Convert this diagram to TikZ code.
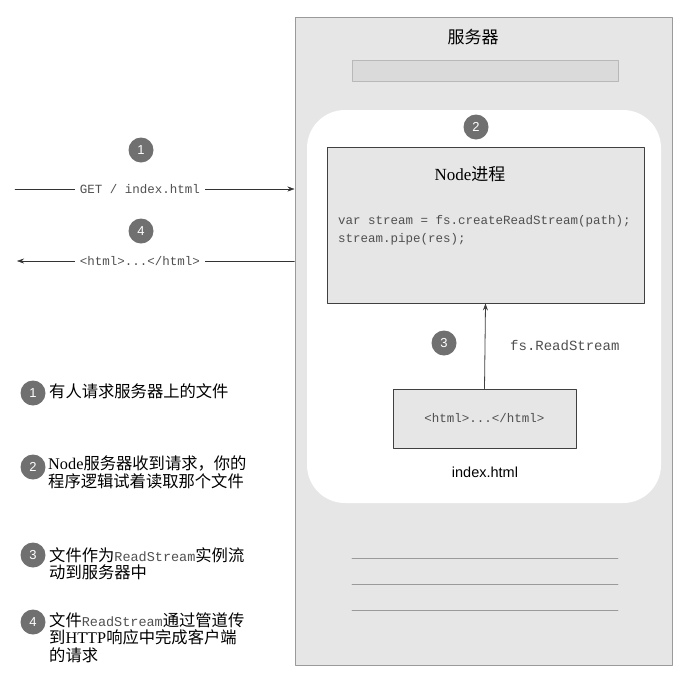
\documentclass[tikz,border=0pt]{standalone}
\usepackage{fontspec}
\setmainfont{Liberation Serif}
\setsansfont{Liberation Sans}
\setmonofont{Liberation Mono}
\newfontfamily\cjk{Noto Sans CJK SC}
\usetikzlibrary{arrows.meta}
\newcommand\zh[1]{{\cjk #1}}
\newcommand\rs[1]{{\ttfamily\fontsize{13.5}{17.5}\selectfont\color{codegray}#1}}
\definecolor{srvgray}{HTML}{E6E6E6}
\definecolor{bargray}{HTML}{DADADA}
\definecolor{numgray}{HTML}{707070}
\definecolor{edgegray}{HTML}{9A9A9A}
\definecolor{codegray}{HTML}{505050}
\begin{document}
\begin{tikzpicture}[x=1pt, y=-1pt, line join=round, line cap=round, >={Stealth[length=7pt, width=5pt]},
    num/.style={circle, fill=numgray, text=white, minimum size=25pt, inner sep=0pt, font=\sffamily\fontsize{13}{13}\selectfont},
    code/.style={text=codegray, font=\ttfamily\fontsize{12.5}{18}\selectfont},
    note/.style={anchor=north west, inner sep=0pt, align=left, font=\fontsize{16.3}{17.5}\selectfont}]
    \useasboundingbox (0,0) rectangle (684,675);
    % Máy chủ
    \node[draw=edgegray, fill=srvgray, line width=1pt, minimum width=377pt, minimum height=648pt, inner sep=0pt] (server) at (483.5,341) {};
    \node[font=\cjk\fontsize{17}{17}\selectfont] (title) at (473,37) {服务器};
    \node[draw=edgegray!70, fill=bargray, minimum width=266pt, minimum height=21pt, inner sep=0pt] (bar) at (485,70.5) {};
    \fill[white, rounded corners=38pt] (307,110) rectangle (661,503);
    \node[num] (s2) at (476,127) {2};
    % Tiến trình Node
    \node[draw=black!75, fill=srvgray, line width=0.8pt, minimum width=317pt, minimum height=156pt, inner sep=0pt] (proc) at (485.5,225) {};
    \node[font=\fontsize{17}{17}\selectfont] (ptitle) at (470,174) {Node\zh{进程}};
    \node[code, anchor=north west, inner sep=0pt, align=left] (src) at (338,215.5) {var stream = fs.createReadStream(path);\\stream.pipe(res);};
    \node[draw=black!75, fill=srvgray, line width=0.8pt, minimum width=183pt, minimum height=59pt, inner sep=0pt, code] (page) at (484.5,418.5) {<html>...</html>};
    \node[font=\sffamily\fontsize{14.5}{14.5}\selectfont] (idx) at (485,472) {index.html};
    \draw[->, black!75, line width=0.8pt] (page.north) -- (proc.south);
    \node[num] (s3) at (444,343) {3};
    \node[code, font=\ttfamily\fontsize{14}{14}\selectfont, anchor=west, inner sep=0pt] (rs) at (510,346) {fs.ReadStream};
    \foreach \y in {558,584,610} \draw[edgegray, line width=0.8pt] (352,\y) -- (618,\y);
    % Yêu cầu và phản hồi
    \node[num] (a1) at (141,150) {1};
    \node[code, inner sep=5pt] (get) at (140,189) {GET / index.html};
    \coordinate (getL) at (15,189);
    \draw[black!80] (getL) -- (get.west);
    \draw[->, black!80] (get.east) -- (get -| server.west);
    \node[num] (a4) at (141,231) {4};
    \node[code, inner sep=5pt] (resp) at (140,261) {<html>...</html>};
    \coordinate (respL) at (17,261);
    \draw[black!80] (resp -| server.west) -- (resp.east);
    \draw[->, black!80] (resp.west) -- (respL);
    % Chú thích
    \node[num] (k1) at (33,393) {1};
    \node[note] (t1) at (49,383) {\zh{有人请求服务器上的文件}};
    \node[num] (k2) at (33,467) {2};
    \node[note] (t2) at (48,456) {Node\zh{服务器收到请求，你的}\\\zh{程序逻辑试着读取那个文件}};
    \node[num] (k3) at (33,555) {3};
    \node[note] (t3) at (49,547) {\zh{文件作为}\rs{ReadStream}\zh{实例流}\\\zh{动到服务器中}};
    \node[num] (k4) at (33,622) {4};
    \node[note] (t4) at (49,612) {\zh{文件}\rs{ReadStream}\zh{通过管道传}\\\zh{到}HTTP\zh{响应中完成客户端}\\\zh{的请求}};
\end{tikzpicture}
\end{document}
